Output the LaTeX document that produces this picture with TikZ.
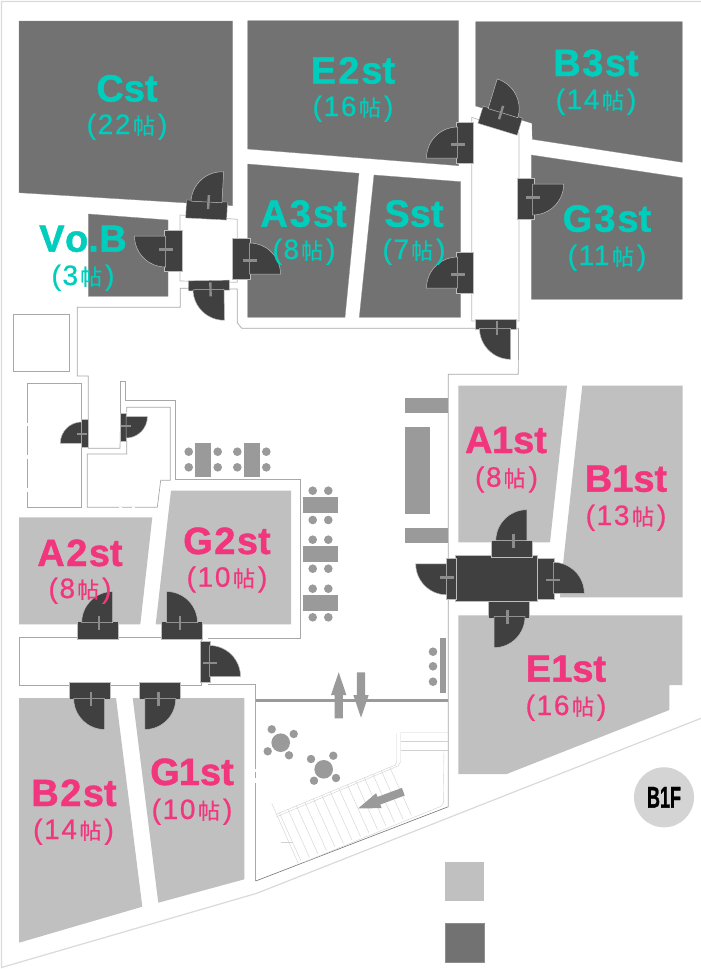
\documentclass[tikz,border=0pt]{standalone}
\usepackage{fontspec}
\setmainfont{Liberation Sans}
\newfontfamily\namef[BoldFeatures={FakeBold=1.2}]{Liberation Sans}
\newfontfamily\subf[LetterSpace=6,FakeBold=0.7]{Liberation Sans}
\newfontfamily\cjk[FakeBold=0.5]{Noto Sans CJK JP}
\definecolor{roomdark}{HTML}{727272}
\definecolor{roomlight}{HTML}{C0C0C0}
\definecolor{doorfill}{HTML}{404040}
\definecolor{doorline}{HTML}{BDBDBD}
\definecolor{doorhandle}{HTML}{8C8C8C}
\definecolor{wall}{HTML}{A8A8A8}
\definecolor{outline}{HTML}{DADADA}
\definecolor{furn}{HTML}{9A9A9A}
\definecolor{tealtext}{HTML}{00CDBC}
\definecolor{pinktext}{HTML}{F2367E}
\newcommand\door[6]{%
  \begin{scope}[shift={(#1,#2)},rotate=#3,xscale=#4,scale=#6]
    \fill[doorfill,draw=doorline,line width=.4pt] (-20.5,-1) rectangle (20.5,#5);
    \fill[doorfill,draw=doorline,line width=.5pt] (-15,0) -- (-15,-31)
       .. controls (2.1,-31) and (16,-17.1) .. (16,0) -- cycle;
    \fill[doorhandle] (-2.7,-7) rectangle (-.3,7);
  \end{scope}}
\newcommand\sublab[2]{{\fontsize{28}{28}\selectfont\subf(#1\kern#2pt{\cjk\fontsize{22}{22}\selectfont 帖}\kern3pt)}}
\tikzset{
  darkroom/.style={fill=roomdark,draw=roomdark!80!white,line width=.3pt},
  lightroom/.style={fill=roomlight},
  wallline/.style={draw=wall,line width=.7pt},
  lightwall/.style={draw=doorline,line width=.7pt},
  stairline/.style={draw=black!18,line width=.4pt},
  furniture/.style={fill=furn},
  roomname/.style={anchor=base,inner sep=0pt,font=\namef\fontsize{38}{38}\selectfont\bfseries},
  roomsize/.style={anchor=base,inner sep=0pt},
  cyanlab/.style={text=tealtext},
  pinklab/.style={text=pinktext},
}
\begin{document}
\begin{tikzpicture}[x=1pt,y=-1pt]
\useasboundingbox (0,0) rectangle (701,969);
\fill[white] (0,0) rectangle (701,969);
% outer outline
\draw[outline,line width=1.2pt] (701,1.5) -- (1.5,1.5) -- (1.5,967.5) -- (256.7,893.3) -- (701,718.3);
% dark rooms
\path[darkroom] (19,21) -- (232.5,21) -- (232.5,205.7) -- (19,192.7) -- cycle;
\path[darkroom] (247.7,20.7) -- (458.7,20.7) -- (458.7,165.7) -- (247.7,149) -- cycle;
\path[darkroom] (247.7,164) -- (359,173.3) -- (345,317.3) -- (247.7,317.3) -- cycle;
\path[darkroom] (374,175) -- (460.7,181.7) -- (460.7,317.3) -- (359.3,317.3) -- cycle;
\path[darkroom] (475.7,21.7) -- (682.3,21.7) -- (682.3,162.3) -- (532.3,139.3) -- (532,123.3) -- (475.7,106) -- cycle;
\path[darkroom] (531.3,155) -- (682.3,177.7) -- (682.3,299.3) -- (531.3,299.3) -- cycle;
\path[darkroom] (88.3,214) -- (168,220) -- (168,296.3) -- (88.3,296.3) -- cycle;
\path[darkroom] (445,923) rectangle (484,961.7);
% light rooms
\path[lightroom] (19,517.3) -- (152.3,517.3) -- (140.3,624.3) -- (19,624.3) -- cycle;
\path[lightroom] (171,490.7) -- (291,490.7) -- (291,624.3) -- (155.7,624.3) -- cycle;
\path[lightroom] (19,698) -- (116,698) -- (142.3,906.7) -- (19,942.7) -- cycle;
\path[lightroom] (132.7,698) -- (244.3,698) -- (244.3,879.3) -- (158.3,902.7) -- cycle;
\path[lightroom] (458.3,385.7) -- (567,385.7) -- (550,542.3) -- (458.3,542.3) -- cycle;
\path[lightroom] (582.3,385.7) -- (682.7,385.7) -- (682.7,597.3) -- (560,597.3) -- (563.7,558) -- cycle;
\path[lightroom] (458.3,615.3) -- (682.3,615.3) -- (682.3,685) -- (669.3,685) -- (669.3,710) -- (506.7,774) -- (458.3,774) -- cycle;
\path[lightroom] (445,862) rectangle (484,900.7);
% walls
\draw[lightwall,fill=white] (180,215) -- (237.3,219.3) -- (237.3,282.3) -- (180,281) -- cycle;
\draw[lightwall,fill=white] (471.7,117.3) -- (519,133) -- (519,321) -- (471.7,321) -- cycle;
\draw[wallline] (188,288.3) -- (180.3,288.3) -- (180.3,307.3) -- (77.3,307.3) -- (77.3,376) -- (88.3,376) -- (88.3,448.3) -- (120,448.3) -- (120.7,415);
\draw[wallline] (120.7,415) -- (120.7,381) -- (125.3,381) -- (125.3,400) -- (175.7,400) -- (175.7,479.3) -- (300.7,479.3) -- (300.7,638.3) -- (208.3,638.3);
\draw[wallline] (126.7,412) -- (126.7,407.3) -- (170.3,407.3) -- (170.3,480.3) -- (160.7,480.3) -- (157.3,507.3) -- (87.3,507.3) -- (87.3,454) -- (126.7,454) -- (126.7,441);
\draw[wallline] (27.3,383.3) rectangle (81.7,507.3);
\draw[wallline] (13,314) rectangle (69,371.7);
\draw[wallline] (230,289) -- (237.3,289) -- (237.3,322.7) -- (241.7,328.3) -- (475,328.3);
\draw[wallline] (515,328.3) -- (518.6,328.3) -- (518.3,374.3) -- (448.3,374.3) -- (448.3,806.7);
\draw[wallline] (208.3,684) -- (255.7,684) -- (255.7,881);
\draw[draw=black!55,line width=.6pt] (255.7,881) -- (448.3,806.7);
\draw[wallline] (19.3,637.3) rectangle (201.7,685);
\draw[draw=furn,line width=2.6pt] (255.7,700.7) -- (448,700.7);
% gaps in the walls
\draw[white,line width=1.6pt] (27.3,423) -- (27.3,426) (27.3,455) -- (27.3,459) (27.3,488) -- (27.3,492) (119,507.3) -- (122,507.3) (132,507.3) -- (135,507.3) (255.7,769) -- (255.7,772) (255.7,778) -- (255.7,783);
% furniture
\path[furniture] (405,398.3) rectangle (448.3,413.3);
\path[furniture] (405,427.3) rectangle (430,514);
\path[furniture] (405,528.3) rectangle (448.3,543.3);
\path[furniture] (440,638.3) rectangle (446,693.3);
\foreach \y in {651.7,666.3,681.7} \path[furniture] (433,\y) circle[radius=4.3pt];
\path[furniture] (195.3,442.7) rectangle (211.3,476.7);
\path[furniture] (244,442.7) rectangle (260,476.7);
\foreach \x in {188.7,217.7,237.3,266.3} \foreach \y in {451.7,467.3} \path[furniture] (\x,\y) circle[radius=4.3pt];
\foreach \y/\a/\b in {497.3/490.7/520,546.3/539.7/568.7,595/588.7/617.3}{
  \path[furniture] (303.3,\y) rectangle (338,\y+16);
  \foreach \x in {312.7,328.3} {\path[furniture] (\x,\a) circle[radius=4.3pt]; \path[furniture] (\x,\b) circle[radius=4.3pt];}
}
\path[furniture] (280.7,742.7) circle[radius=9.3pt];
\foreach \p in {(271.7,729.3),(293.7,734),(267.7,751.3),(289,755.3)} \path[furniture] \p circle[radius=4.2pt];
\path[furniture] (323.7,769.3) circle[radius=9.3pt];
\foreach \p in {(311,759),(333.3,755.7),(314,780.7),(336,778)} \path[furniture] \p circle[radius=4.2pt];
% arrows
\path[furniture] (338.7,672.3) -- (346.4,695) -- (342.9,695) -- (342.9,718.3) -- (334.5,718.3) -- (334.5,695) -- (331,695) -- cycle;
\path[furniture] (361,717.7) -- (368.7,695) -- (365.2,695) -- (365.2,672.3) -- (356.8,672.3) -- (356.8,695) -- (353.3,695) -- cycle;
% stairs
\draw[stairline] (276,814.3) -- (395.3,765) -- (396.7,762) -- (396.7,733.3);
\draw[stairline] (276.5,816.7) -- (398,766) -- (400.5,762) -- (400.5,732.7) -- (448,732.7);
\draw[stairline] (400.5,741) -- (448,741);
\draw[stairline] (400.5,750) -- (448,750);
\draw[stairline] (271.7,803.3) -- (298.3,863.3);
\draw[stairline] (280.7,842.3) -- (293.3,842.3);
\draw[stairline] (305,861.7) -- (441,806.3) -- (443.3,803) -- (444,750);
\foreach \i in {0,...,13} \draw[stairline] (279.3+8.5*\i,812.7-3.5*\i) -- ++(21.7,48.3);
\path[furniture] (358.3,808.3) -- (381.7,808.2) -- (380.3,804.5) -- (404.7,795.5) -- (401.9,787.9) -- (377.5,796.9) -- (376.1,793.2) -- cycle;
% central block
\fill[doorfill,draw=doorline,line width=.4pt] (455,555.3) rectangle (536.7,601);
% doors
\door{207}{202}{-3}{-1}{17}{1}
\door{165.5}{251}{90}{-1}{17}{1}
\door{249.5}{259}{-90}{-1}{17}{1}
\door{209}{289.5}{181}{1}{9}{1}
\door{457.5}{143}{90}{1}{16}{1}
\door{457.5}{273}{90}{1}{16}{1}
\door{502.5}{113}{-17}{1}{17}{1}
\door{532.7}{199}{-90}{1}{16}{1}
\door{495.5}{328.3}{180}{1}{9}{1}
\door{81.7}{433}{90}{1}{9}{.69}
\door{126}{427}{-90}{1}{9}{.69}
\door{97.7}{622.5}{0}{-1}{16.5}{1}
\door{181.5}{622.5}{0}{1}{16.5}{1}
\door{209.5}{661.5}{-90}{-1}{9}{1}
\door{89.7}{698.5}{180}{1}{16}{1}
\door{159.8}{698.5}{180}{-1}{16}{1}
\door{511.8}{540.7}{0}{-1}{16.5}{1}
\door{553.3}{578.3}{-90}{-1}{16}{1}
\door{446.7}{578.8}{90}{-1}{9}{1}
\door{509}{616.7}{180}{-1}{16}{1}
% labels
\node[roomname,cyanlab] (cst) at (127,101.5) {Cst};
\node[roomsize,cyanlab] (cstsize) at (127,134) {\sublab{22}{2.5}};
\node[roomname,cyanlab] (e2) at (353,83.5) {E\kern2pt 2\kern2pt st};
\node[roomsize,cyanlab] (e2size) at (353,116) {\sublab{16}{2.5}};
\node[roomname,cyanlab] (b3) at (596,76) {B\kern1.5pt 3\kern1.5pt st};
\node[roomsize,cyanlab] (b3size) at (596,109) {\sublab{14}{2.5}};
\node[roomname,cyanlab] (a3) at (303.5,226.7) {A\kern2pt 3\kern2pt st};
\node[roomsize,cyanlab] (a3size) at (304,259) {\sublab{8}{2}};
\node[roomname,cyanlab] (s) at (414,226.7) {Sst};
\node[roomsize,cyanlab] (ssize) at (414,259) {\sublab{7}{2}};
\node[roomname,cyanlab] (g3) at (607,231.7) {G\kern2pt 3\kern2pt st};
\node[roomsize,cyanlab] (g3size) at (607,265) {\sublab{11}{2.5}};
\node[roomname,cyanlab] (vob) at (83,251.7) {V\kern.5pt o.\kern.5pt B};
\node[roomsize,cyanlab] (vobsize) at (83,285) {\sublab{3}{2}};
\node[roomname,pinklab] (a2) at (80,566) {A\kern1.5pt 2\kern1.5pt st};
\node[roomsize,pinklab] (a2size) at (80,598) {\sublab{8}{2}};
\node[roomname,pinklab] (g2) at (227,554) {G\kern1.5pt 2\kern1.5pt st};
\node[roomsize,pinklab] (g2size) at (227,586.7) {\sublab{10}{2.5}};
\node[roomname,pinklab] (a1) at (506,453) {A\kern-.5pt 1st};
\node[roomsize,pinklab] (a1size) at (506.5,486.7) {\sublab{8}{2}};
\node[roomname,pinklab] (b1) at (626,491.7) {B1st};
\node[roomsize,pinklab] (b1size) at (626,525) {\sublab{13}{2.5}};
\node[roomname,pinklab] (e1) at (566,681.7) {E1st};
\node[roomsize,pinklab] (e1size) at (566,715) {\sublab{16}{2.5}};
\node[roomname,pinklab] (b2) at (74,806) {B\kern1.5pt 2\kern1.5pt st};
\node[roomsize,pinklab] (b2size) at (73.5,839) {\sublab{14}{2.5}};
\node[roomname,pinklab] (g1) at (192,785) {G\kern-1pt 1st};
\node[roomsize,pinklab] (g1size) at (192,819) {\sublab{10}{2.5}};
% floor badge
\node[circle,fill=black!17,draw=none,minimum size=60pt,inner sep=0pt] (floor) at (664,797.3) {};
\node[inner sep=0pt,xscale=.6,font=\namef\fontsize{30}{30}\selectfont\bfseries] (floorlabel) at (floor.center) {B1F};
\end{tikzpicture}
\end{document}
